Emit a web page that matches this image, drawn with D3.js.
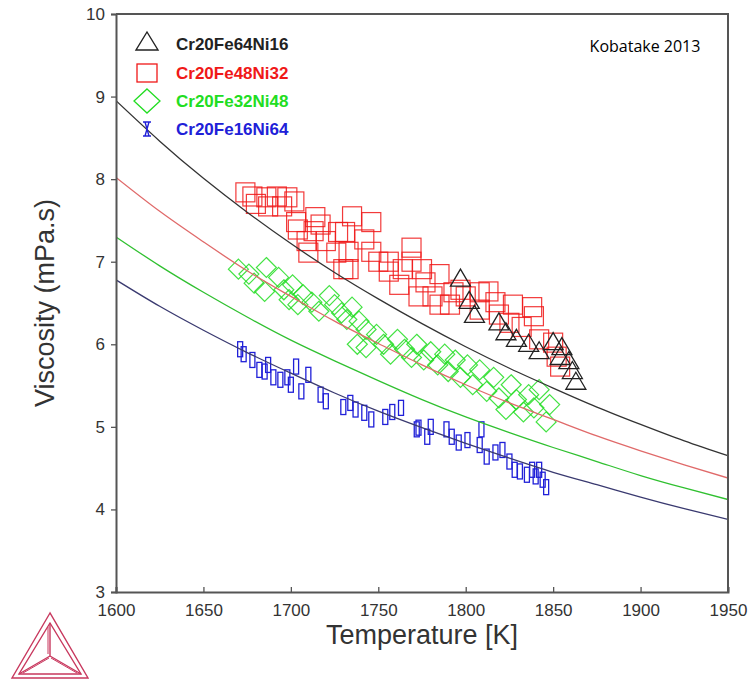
<!DOCTYPE html>
<html>
<head>
<meta charset="utf-8">
<script src="https://cdn.jsdelivr.net/npm/d3@7"></script>
<style>
  html, body { margin: 0; padding: 0; background: #fff; }
  svg { display: block; }
</style>
</head>
<body>
<svg id="chart" width="756" height="681"></svg>
<script>
// Axis ticks
const xTicks = [1600, 1650, 1700, 1750, 1800, 1850, 1900, 1950];
const yTicks = [3, 4, 5, 6, 7, 8, 9, 10];

// Calculated viscosity curves, sampled every 25 K
const curveT = [1600, 1625, 1650, 1675, 1700, 1725, 1750, 1775, 1800, 1825, 1850, 1875, 1900, 1925, 1950];
const calcFe64 = [8.95, 8.46, 8.01, 7.60, 7.22, 6.87, 6.55, 6.25, 5.97, 5.71, 5.47, 5.24, 5.03, 4.83, 4.65];
const calcFe48 = [8.02, 7.61, 7.24, 6.89, 6.58, 6.28, 6.01, 5.75, 5.51, 5.29, 5.09, 4.89, 4.71, 4.54, 4.38];
const calcFe32 = [7.30, 6.95, 6.63, 6.33, 6.05, 5.80, 5.56, 5.33, 5.12, 4.93, 4.75, 4.58, 4.41, 4.26, 4.12];
const calcFe16 = [6.78, 6.46, 6.17, 5.90, 5.65, 5.41, 5.19, 4.99, 4.80, 4.62, 4.45, 4.30, 4.15, 4.01, 3.88];

// Measured points, Cr20Fe64Ni16
const fe64T = [1797, 1802, 1805, 1819, 1823, 1829, 1836, 1842, 1850, 1855, 1854, 1859, 1861, 1863];
const fe64V = [6.79, 6.52, 6.35, 6.26, 6.14, 6.06, 6.00, 5.91, 6.02, 5.96, 5.84, 5.79, 5.67, 5.54];

// Measured points, Cr20Fe48Ni32
const fe48T = [1674, 1678, 1680, 1686, 1687, 1692, 1695, 1698, 1702, 1703, 1704, 1709, 1710, 1713, 1714, 1717,
  1720, 1726, 1727, 1730, 1731, 1733, 1733, 1735, 1742, 1746, 1746, 1750, 1756, 1756, 1762, 1764, 1769, 1769,
  1773, 1775, 1777, 1781, 1785, 1785, 1791, 1793, 1797, 1800, 1808, 1808, 1813, 1817, 1819, 1825, 1827, 1832,
  1838, 1839, 1842, 1850, 1852, 1854];
const fe48V = [7.84, 7.79, 7.70, 7.78, 7.67, 7.79, 7.67, 7.78, 7.73, 7.48, 7.39, 7.25, 7.11, 7.37, 7.54, 7.45,
  7.25, 7.11, 7.36, 6.91, 7.36, 7.12, 6.91, 7.55, 7.27, 7.48, 7.12, 7.00, 7.00, 6.88, 6.72, 6.91, 7.17, 7.00,
  6.58, 6.91, 6.75, 6.58, 6.85, 6.48, 6.48, 6.63, 6.66, 6.58, 6.63, 6.42, 6.64, 6.51, 6.36, 6.26, 6.48, 6.21,
  6.45, 6.34, 6.06, 6.02, 5.85, 5.73];

// Measured points, Cr20Fe32Ni48
const fe32T = [1670, 1676, 1679, 1686, 1685, 1693, 1696, 1699, 1701, 1704, 1707, 1712, 1716, 1722, 1725, 1729,
  1732, 1735, 1739, 1743, 1738, 1743, 1749, 1753, 1757, 1761, 1765, 1769, 1772, 1776, 1780, 1784, 1788, 1790,
  1794, 1797, 1801, 1804, 1808, 1812, 1816, 1819, 1823, 1826, 1829, 1833, 1836, 1839, 1842, 1846, 1848];
const fe32V = [6.91, 6.85, 6.74, 6.93, 6.64, 6.81, 6.66, 6.54, 6.72, 6.48, 6.60, 6.51, 6.40, 6.59, 6.48, 6.38,
  6.30, 6.45, 6.28, 6.18, 6.00, 5.96, 6.12, 6.00, 5.88, 6.06, 5.94, 5.84, 6.00, 5.81, 5.91, 5.75, 5.88, 5.67,
  5.81, 5.60, 5.75, 5.51, 5.69, 5.43, 5.60, 5.35, 5.21, 5.51, 5.33, 5.18, 5.39, 5.23, 5.45, 5.06, 5.27];

// Measured points, Cr20Fe16Ni64
const fe16T = [1671, 1673, 1678, 1682, 1685, 1687, 1690, 1694, 1698, 1700, 1703, 1706, 1710, 1717, 1720, 1730,
  1734, 1737, 1742, 1746, 1754, 1758, 1763, 1772, 1773, 1778, 1780, 1789, 1792, 1796, 1801, 1808, 1809, 1812,
  1817, 1821, 1825, 1828, 1831, 1835, 1838, 1840, 1842, 1844, 1846];
const fe16V = [5.94, 5.88, 5.81, 5.69, 5.67, 5.75, 5.60, 5.57, 5.60, 5.51, 5.73, 5.43, 5.63, 5.39, 5.31, 5.24,
  5.29, 5.21, 5.17, 5.09, 5.12, 5.18, 5.23, 4.97, 4.99, 4.88, 5.00, 4.97, 4.88, 4.81, 4.84, 4.78, 4.97, 4.64,
  4.69, 4.72, 4.58, 4.48, 4.46, 4.42, 4.48, 4.40, 4.48, 4.36, 4.27];

const legendNames = ["Cr20Fe64Ni16", "Cr20Fe48Ni32", "Cr20Fe32Ni48", "Cr20Fe16Ni64"];

// ---- layout ----
const svg = d3.select("#chart");
const pLeft = 116, pRight = 728, pTop = 14, pBottom = 592;
const x = d3.scaleLinear().domain([1600, 1950]).range([pLeft, pRight]);
const y = d3.scaleLinear().domain([3, 10]).range([pBottom, pTop]);

const axisColor = "#555";
const tickFont = "'Liberation Sans', Arial, sans-serif";

// clip for curves / markers
svg.append("defs").append("clipPath").attr("id", "plotClip")
  .append("rect").attr("x", pLeft).attr("y", pTop).attr("width", pRight - pLeft).attr("height", pBottom - pTop);

const plot = svg.append("g").attr("clip-path", "url(#plotClip)");

// ---- markers ----
const red = "#f01818", green = "#22dd22", blue = "#2020d8", black = "#222";

// squares
plot.append("g").selectAll("rect").data(d3.zip(fe48T, fe48V)).join("rect")
  .attr("x", d => x(d[0]) - 9.5).attr("y", d => y(d[1]) - 9.5)
  .attr("width", 19).attr("height", 19)
  .attr("fill", "none").attr("stroke", red).attr("stroke-width", 1.2).attr("stroke-opacity", 0.85);

// diamonds
plot.append("g").selectAll("path").data(d3.zip(fe32T, fe32V)).join("path")
  .attr("d", d => {
    const cx = x(d[0]), cy = y(d[1]), r = 10;
    return `M${cx},${cy - r}L${cx + r},${cy}L${cx},${cy + r}L${cx - r},${cy}Z`;
  })
  .attr("fill", "none").attr("stroke", green).attr("stroke-width", 1.2).attr("stroke-opacity", 0.85);

// error-bar style boxes
plot.append("g").selectAll("rect").data(d3.zip(fe16T, fe16V)).join("rect")
  .attr("x", d => x(d[0]) - 2.5).attr("y", d => y(d[1]) - 7.5)
  .attr("width", 5).attr("height", 15)
  .attr("fill", "none").attr("stroke", blue).attr("stroke-width", 1.3);

// triangles
plot.append("g").selectAll("path").data(d3.zip(fe64T, fe64V)).join("path")
  .attr("d", d => {
    const cx = x(d[0]), cy = y(d[1]);
    return `M${cx},${cy - 10}L${cx + 10},${cy + 7}L${cx - 10},${cy + 7}Z`;
  })
  .attr("fill", "none").attr("stroke", black).attr("stroke-width", 1.3);

// ---- calculated curves ----
const line = d3.line().x(d => x(d[0])).y(d => y(d[1])).curve(d3.curveNatural);
const curves = [
  { v: calcFe16, c: "#3a3a70" },
  { v: calcFe32, c: "#30c030" },
  { v: calcFe48, c: "#e06a6a" },
  { v: calcFe64, c: "#333" }
];
curves.forEach(cv => {
  plot.append("path").datum(d3.zip(curveT, cv.v))
    .attr("d", line).attr("fill", "none")
    .attr("stroke", cv.c).attr("stroke-width", 1.3);
});

// ---- axes ----
const xAxis = svg.append("g").attr("transform", `translate(0,${pBottom})`)
  .call(d3.axisBottom(x).tickValues(xTicks).tickFormat(d3.format("d")).tickSize(-5).tickPadding(12));
const yAxis = svg.append("g").attr("transform", `translate(${pLeft},0)`)
  .call(d3.axisLeft(y).tickValues(yTicks).tickFormat(d3.format("d")).tickSize(5).tickPadding(6));
[xAxis, yAxis].forEach(a => {
  a.select(".domain").attr("stroke", axisColor).attr("stroke-width", 2);
  a.selectAll(".tick line").attr("stroke", axisColor).attr("stroke-width", 1.3);
  a.selectAll(".tick text").attr("fill", "#333").style("font-family", tickFont).style("font-size", "17px");
});
// top and right frame
svg.append("path")
  .attr("d", `M${pLeft},${pTop}H${pRight}V${pBottom}`)
  .attr("fill", "none").attr("stroke", axisColor).attr("stroke-width", 2);

// axis titles
svg.append("text").attr("x", (pLeft + pRight) / 2).attr("y", 644)
  .attr("text-anchor", "middle").attr("fill", "#333")
  .style("font-family", tickFont).style("font-size", "27px")
  .text("Temperature [K]");
svg.append("text").attr("transform", `translate(54,${(pTop + pBottom) / 2}) rotate(-90)`)
  .attr("text-anchor", "middle").attr("fill", "#333")
  .style("font-family", tickFont).style("font-size", "27px")
  .text("Viscosity (mPa.s)");

// source note
svg.append("text").attr("x", 645).attr("y", 52).attr("text-anchor", "middle")
  .attr("fill", "#000").style("font-family", "'Open Sans', sans-serif").style("font-size", "16px")
  .text("Kobatake 2013");

// ---- legend ----
const legColors = [black, red, green, blue];
const legY = [44, 73, 101, 129];
const lg = svg.append("g");
legendNames.forEach((name, i) => {
  const cy = legY[i], cx = 147;
  if (i === 0) {
    lg.append("path").attr("d", `M${cx},${cy - 12}L${cx + 11},${cy + 6}L${cx - 11},${cy + 6}Z`)
      .attr("fill", "none").attr("stroke", black).attr("stroke-width", 1.4);
  } else if (i === 1) {
    lg.append("rect").attr("x", cx - 10).attr("y", cy - 9).attr("width", 20).attr("height", 18)
      .attr("fill", "none").attr("stroke", red).attr("stroke-width", 1.3);
  } else if (i === 2) {
    lg.append("path").attr("d", `M${cx},${cy - 12}L${cx + 13},${cy}L${cx},${cy + 12}L${cx - 13},${cy}Z`)
      .attr("fill", "none").attr("stroke", green).attr("stroke-width", 1.3);
  } else {
    lg.append("path").attr("d", `M${cx - 4},${cy - 7}H${cx + 4}M${cx - 4},${cy + 7}H${cx + 4}M${cx - 2},${cy - 7}L${cx + 2},${cy + 7}M${cx + 2},${cy - 7}L${cx - 2},${cy + 7}`)
      .attr("fill", "none").attr("stroke", blue).attr("stroke-width", 1.4);
  }
  lg.append("text").attr("x", 176).attr("y", cy + 6)
    .attr("fill", legColors[i]).style("font-family", tickFont)
    .style("font-size", "17px").style("font-weight", "bold")
    .text(name);
});

// ---- logo ----
const logo = svg.append("g").attr("fill", "none").attr("stroke", "#c8385e").attr("stroke-width", 1.4);
const A = [50, 613], B = [12, 678], C = [88, 678];
const a = [50, 623], b = [19, 674], c = [81, 674];
const m = [50, 656];
logo.append("path").attr("d", `M${A}L${B}L${C}Z`);
logo.append("path").attr("d", `M${a}L${b}L${c}Z`);
logo.append("path").attr("d", `M${a}L${m}M${b}L${m}M${c}L${m}`);
logo.append("path").attr("d", `M${a[0] - 2},${a[1] + 4}L${m[0] - 2},${m[1] - 2}M${b[0] + 4},${b[1] - 1}L${m[0] - 1},${m[1] + 2}M${c[0] - 4},${c[1] - 1}L${m[0] + 1},${m[1] + 2}`).attr("stroke-width", 1);
</script>
</body>
</html>
